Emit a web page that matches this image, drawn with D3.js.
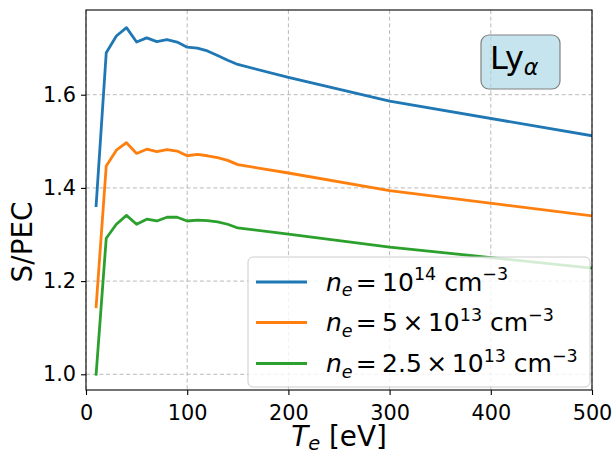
<!DOCTYPE html>
<html><head><meta charset="utf-8">
<script src="https://cdn.jsdelivr.net/npm/d3@7"></script>
<style>body{margin:0;background:#fff}svg{display:block}text{font-family:"DejaVu Sans",sans-serif}</style>
</head><body><svg id="c" width="615" height="452"></svg>
<script>
const Te = [10,20,30,40,50,60,70,80,90,100,110,120,130,140,150,200,300,500];
const ne1e14 = [1.362,1.690,1.726,1.744,1.713,1.722,1.714,1.718,1.713,1.702,1.700,1.694,1.684,1.674,1.665,1.637,1.586,1.512];
const ne5e13 = [1.145,1.447,1.481,1.497,1.474,1.483,1.478,1.482,1.479,1.469,1.472,1.469,1.465,1.459,1.450,1.432,1.394,1.340];
const ne25e13 = [1.000,1.292,1.322,1.341,1.322,1.333,1.329,1.337,1.337,1.329,1.331,1.330,1.327,1.322,1.314,1.301,1.273,1.228];
const xTicks = [0,100,200,300,400,500];
const yTicks = [1.0,1.2,1.4,1.6];
const colors = ["#1f77b4","#ff7f0e","#2ca02c"];
const seriesNames = [
  [{t:"n",i:1},{t:"e",p:"sub",i:1},{t:"=",dx:3},{t:"10",dx:5.5},{t:"14",p:"sup"},{t:" cm"},{t:"\u22123",p:"sup"}],
  [{t:"n",i:1},{t:"e",p:"sub",i:1},{t:"=",dx:3},{t:"5",dx:5.5},{t:"\u00d7",dx:4.5},{t:"10",dx:4.5},{t:"13",p:"sup"},{t:" cm"},{t:"\u22123",p:"sup"}],
  [{t:"n",i:1},{t:"e",p:"sub",i:1},{t:"=",dx:3},{t:"2.5",dx:5.5},{t:"\u00d7",dx:4.5},{t:"10",dx:4.5},{t:"13",p:"sup"},{t:" cm"},{t:"\u22123",p:"sup"}]
];
const series = [ne1e14, ne5e13, ne25e13];

const svg = d3.select("#c");
const L=86,R=592,T=10,B=390;
const x = d3.scaleLinear([0,500],[L,R]);
const y = d3.scaleLinear([0.9663,1.7818],[B,T]);

function rich(sel, parts, size, subShift){
  let off=0;
  const ss = subShift===undefined?0.22:subShift;
  parts.forEach(p=>{
    const s = p.p ? size*0.7 : size;
    let target = p.p==="sub" ? size*ss : p.p==="sup" ? -size*0.42 : 0;
    const ts = sel.append("tspan").text(p.t).attr("font-size",s).attr("dy",(target-off)).style("white-space","pre");
    if(p.dx) ts.attr("dx",p.dx);
    if(p.i) ts.attr("font-style","italic");
    off=target;
  });
  sel.attr("xml:space","preserve");
}

// grid
const g = svg.append("g");
g.selectAll(".gx").data(xTicks).join("line").attr("x1",d=>x(d)).attr("x2",d=>x(d)).attr("y1",T).attr("y2",B)
  .attr("stroke","#b9b9b9").attr("stroke-width",1).attr("stroke-dasharray","4,2.7");
g.selectAll(".gy").data(yTicks).join("line").attr("y1",d=>y(d)).attr("y2",d=>y(d)).attr("x1",L).attr("x2",R)
  .attr("stroke","#b9b9b9").attr("stroke-width",1).attr("stroke-dasharray","4,2.7");

// lines
svg.append("clipPath").attr("id","cp").append("rect").attr("x",L).attr("y",T).attr("width",R-L).attr("height",B-T);
const line = d3.line().x((d,i)=>x(Te[i])).y(d=>y(d));
svg.append("g").attr("clip-path","url(#cp)").selectAll("path").data(series).join("path")
  .attr("d",line).attr("fill","none").attr("stroke",(d,i)=>colors[i]).attr("stroke-width",2.8)
  .attr("stroke-linejoin","round").attr("stroke-linecap","square");

// legend
const lg = svg.append("g");
lg.append("rect").attr("x",248).attr("y",257).attr("width",342).attr("height",130).attr("rx",5)
  .attr("fill","#fff").attr("fill-opacity",0.8).attr("stroke","#cccccc").attr("stroke-width",1);
const rowsY=[282,322.5,363.5];
seriesNames.forEach((nm,i)=>{
  lg.append("line").attr("x1",256).attr("x2",307).attr("y1",rowsY[i]).attr("y2",rowsY[i]).attr("stroke",colors[i]).attr("stroke-width",2.8);
  const t=lg.append("text").attr("x",326).attr("y",rowsY[i]+8.5).attr("fill","#000");
  rich(t,nm,25);
});

// Ly alpha box
svg.append("rect").attr("x",481).attr("y",35).attr("width",79).attr("height",54).attr("rx",8)
  .attr("fill","#add8e6").attr("fill-opacity",0.7).attr("stroke","#808080").attr("stroke-width",1.2);
const ly = svg.append("text").attr("x",490).attr("y",68.5).attr("fill","#000");
rich(ly,[{t:"Ly"},{t:"\u03b1",p:"sub",i:1}],32,0.2);

// axes
const ax = svg.append("g").attr("transform",`translate(0,${B})`).call(d3.axisBottom(x).tickValues(xTicks).tickFormat(d3.format("d")).tickSize(5).tickPadding(5));
const ay = svg.append("g").attr("transform",`translate(${L},0)`).call(d3.axisLeft(y).tickValues(yTicks).tickFormat(d3.format(".1f")).tickSize(5).tickPadding(5));
[ax,ay].forEach(a=>{a.select(".domain").remove();a.selectAll("line").attr("stroke","#000").attr("stroke-width",1.1);
  a.selectAll("text").attr("font-size",20.8).attr("font-family","DejaVu Sans").attr("fill","#000");});
ax.selectAll("text").attr("dy","0.95em");
svg.append("rect").attr("x",L).attr("y",T).attr("width",R-L).attr("height",B-T).attr("fill","none").attr("stroke","#000").attr("stroke-width",1.1);

// axis labels
const xl = svg.append("text").attr("x",(L+R)/2).attr("y",446).attr("text-anchor","middle").attr("fill","#000");
rich(xl,[{t:"T",i:1},{t:"e",p:"sub",i:1},{t:" [eV]"}],27.8,0.14);
svg.append("text").attr("transform","translate(32,242) rotate(-90)").attr("text-anchor","middle").attr("font-size",27.8).attr("fill","#000").text("S/PEC");
</script></body></html>
